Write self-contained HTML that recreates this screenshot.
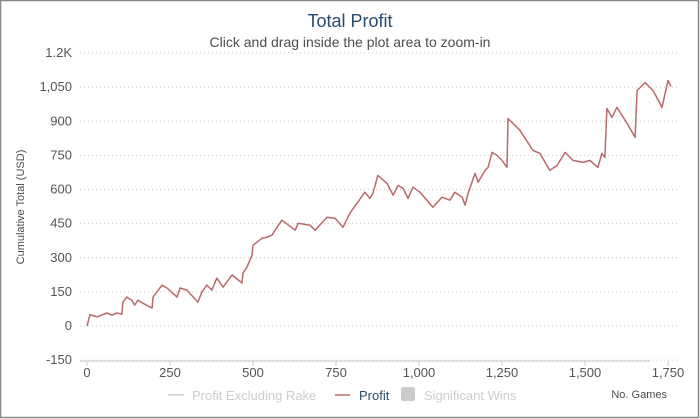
<!DOCTYPE html>
<html><head><meta charset="utf-8"><style>
html,body{margin:0;padding:0;background:#fff;}
#wrap{position:relative;width:700px;height:419px;overflow:hidden;}
svg{position:absolute;left:0;top:0;font-family:"Liberation Sans","DejaVu Sans",sans-serif;}
</style></head><body>
<div id="wrap">
<svg id="chart" width="700" height="419" viewBox="0 0 700 419">
<rect x="0.5" y="0.5" width="698" height="417" fill="#fff" stroke="#888" stroke-width="1.5"/>
<text x="350" y="27" text-anchor="middle" font-size="18" fill="#274b6d">Total Profit</text>
<text x="350" y="47" text-anchor="middle" font-size="14" fill="#4d4d4d">Click and drag inside the plot area to zoom-in</text>
<g id="grid"></g>
<g id="yticks"></g>
<g id="xticks"></g>
<path id="profitLine" fill="none" stroke="#b86a6a" stroke-width="1.5" stroke-linejoin="round"/>
<text transform="translate(24,207) rotate(-90)" text-anchor="middle" font-size="11" fill="#4d4d4d">Cumulative Total (USD)</text>
<text x="667" y="398" text-anchor="end" font-size="11" fill="#4d4d4d">No. Games</text>
<g>
<line x1="168" y1="395" x2="184" y2="395" stroke="#ccc" stroke-width="1.5"/>
<text x="192" y="400" font-size="13" fill="#ccc">Profit Excluding Rake</text></g>
<g>
<line x1="335" y1="395" x2="350" y2="395" stroke="#b86a6a" stroke-width="1.5"/>
<text x="359" y="400" font-size="13" fill="#274b6d">Profit</text></g>
<g>
<rect x="401" y="387" width="14" height="14" rx="2" fill="#ccc"/>
<text x="424" y="400" font-size="13" fill="#ccc">Significant Wins</text></g>
</svg></div>
<script>
const yTicks=[-150,0,150,300,450,600,750,900,1050,1200];
const yTickLabels=["-150","0","150","300","450","600","750","900","1,050","1.2K"];
const xTicks=[0,250,500,750,1000,1250,1500,1750];
const xTickLabels=["0","250","500","750","1,000","1,250","1,500","1,750"];
const games=[0,9,30,60,75,90,105,108,120,135,144,153,169,190,196,199,226,241,271,280,301,334,346,361,376,391,410,437,467,470,482,497,500,527,542,557,572,587,627,636,672,687,723,747,771,792,813,837,852,861,876];
const profit=[0,50,40,57,48,57,52,105,127,114,92,114,100,83,79,127,180,167,127,167,158,105,149,180,158,210,171,224,189,232,259,311,355,386,390,399,434,465,421,452,443,421,478,474,434,496,539,588,561,583,662];
const g2=[883,904,922,937,952,967,982,1003,1042,1069,1093,1108,1130,1139,1148,1169,1178,1199,1208,1220,1235,1250,1265,1268,1304,1343,1364,1394,1416,1440,1464,1494,1515,1539,1551,1560,1566,1581,1596,1627,1651,1657,1681,1705,1732,1750,1759];
const p2=[653,627,575,618,605,561,610,588,522,566,553,588,566,531,583,671,632,684,697,763,750,728,697,912,860,772,759,684,706,763,728,719,728,697,759,741,956,917,961,890,829,1035,1070,1035,961,1079,1053];
const X0=80,X1=678;
function xs(g){return 87+g*(668-87)/1750;}
function ys(v){return 326-v*(326-53)/1200;}
const NS="http://www.w3.org/2000/svg";
const grid=document.getElementById('grid'),yt=document.getElementById('yticks'),xt=document.getElementById('xticks');
yTicks.forEach((v,i)=>{
 const l=document.createElementNS(NS,'line');
 
 
 l.setAttribute('x1',X0);l.setAttribute('x2',X1);l.setAttribute('y1',ys(v));l.setAttribute('y2',ys(v));
 l.setAttribute('stroke','#c8c8c8');l.setAttribute('stroke-dasharray','1,3');grid.appendChild(l);
 const t=document.createElementNS(NS,'text');
 
 
 t.setAttribute('x',72);t.setAttribute('y',ys(v)+4);t.setAttribute('text-anchor','end');
 t.setAttribute('font-size','13');t.setAttribute('fill','#555');t.textContent=yTickLabels[i];yt.appendChild(t);
});
const ax=document.createElementNS(NS,'line');


ax.setAttribute('x1',X0);ax.setAttribute('x2',650);ax.setAttribute('y1',361);ax.setAttribute('y2',361);
ax.setAttribute('stroke','#c8c8c8');grid.appendChild(ax);
xTicks.forEach((v,i)=>{
 const tk=document.createElementNS(NS,'line');
 
 
 tk.setAttribute('x1',xs(v));tk.setAttribute('x2',xs(v));tk.setAttribute('y1',361);tk.setAttribute('y2',366);
 tk.setAttribute('stroke','#c8c8c8');grid.appendChild(tk);
 const t=document.createElementNS(NS,'text');
 
 
 t.setAttribute('x',xs(v));t.setAttribute('y',377);t.setAttribute('text-anchor','middle');
 t.setAttribute('font-size','13');t.setAttribute('fill','#555');t.textContent=xTickLabels[i];xt.appendChild(t);
});
const gAll=games.concat(g2),pAll=profit.concat(p2);
let d='';
gAll.forEach((g,i)=>{d+=(i?'L':'M')+xs(g).toFixed(1)+','+ys(pAll[i]).toFixed(1);});
document.getElementById('profitLine').setAttribute('d',d);
</script>
</body></html>
